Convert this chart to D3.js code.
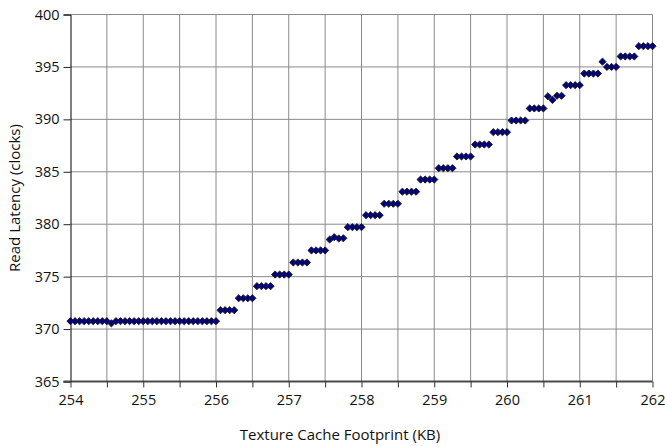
<!DOCTYPE html>
<html>
<head>
<meta charset="utf-8">
<script src="https://cdn.jsdelivr.net/npm/d3@7"></script>
<style>
  html, body { margin: 0; padding: 0; background: #fff; }
  svg { display: block; }
  text { font-family: "Open Sans", "Liberation Sans", sans-serif; fill: #111; }
</style>
</head>
<body>
<svg id="chart" width="665" height="447"></svg>
<script>
// Footprint of the texture working set, in KB (one sample per 64-byte line)
const footprintKB = [
  254, 254.0625, 254.125, 254.1875, 254.25, 254.3125, 254.375, 254.4375,
  254.5, 254.5625, 254.625, 254.6875, 254.75, 254.8125, 254.875, 254.9375,
  255, 255.0625, 255.125, 255.1875, 255.25, 255.3125, 255.375, 255.4375,
  255.5, 255.5625, 255.625, 255.6875, 255.75, 255.8125, 255.875, 255.9375,
  256, 256.0625, 256.125, 256.1875, 256.25, 256.3125, 256.375, 256.4375,
  256.5, 256.5625, 256.625, 256.6875, 256.75, 256.8125, 256.875, 256.9375,
  257, 257.0625, 257.125, 257.1875, 257.25, 257.3125, 257.375, 257.4375,
  257.5, 257.5625, 257.625, 257.6875, 257.75, 257.8125, 257.875, 257.9375,
  258, 258.0625, 258.125, 258.1875, 258.25, 258.3125, 258.375, 258.4375,
  258.5, 258.5625, 258.625, 258.6875, 258.75, 258.8125, 258.875, 258.9375,
  259, 259.0625, 259.125, 259.1875, 259.25, 259.3125, 259.375, 259.4375,
  259.5, 259.5625, 259.625, 259.6875, 259.75, 259.8125, 259.875, 259.9375,
  260, 260.0625, 260.125, 260.1875, 260.25, 260.3125, 260.375, 260.4375,
  260.5, 260.5625, 260.625, 260.6875, 260.75, 260.8125, 260.875, 260.9375,
  261, 261.0625, 261.125, 261.1875, 261.25, 261.3125, 261.375, 261.4375,
  261.5, 261.5625, 261.625, 261.6875, 261.75, 261.8125, 261.875, 261.9375,
  262
];

// Measured read latency (clocks) for each footprint above
const latencyClocks = [
  370.75, 370.75, 370.75, 370.75, 370.75, 370.75, 370.75, 370.75,
  370.75, 370.55, 370.75, 370.75, 370.75, 370.75, 370.75, 370.75,
  370.75, 370.75, 370.75, 370.75, 370.75, 370.75, 370.75, 370.75,
  370.75, 370.75, 370.75, 370.75, 370.75, 370.75, 370.75, 370.75,
  370.75, 371.8, 371.8, 371.8, 371.8, 372.94, 372.94, 372.94,
  372.94, 374.09, 374.09, 374.09, 374.09, 375.2, 375.2, 375.2,
  375.2, 376.35, 376.35, 376.35, 376.35, 377.5, 377.5, 377.5,
  377.5, 378.54, 378.76, 378.64, 378.66, 379.72, 379.72, 379.72,
  379.72, 380.86, 380.86, 380.86, 380.86, 381.95, 381.95, 381.95,
  381.95, 383.1, 383.1, 383.1, 383.1, 384.26, 384.26, 384.26,
  384.26, 385.34, 385.34, 385.34, 385.34, 386.46, 386.46, 386.46,
  386.46, 387.6, 387.6, 387.6, 387.6, 388.78, 388.78, 388.78,
  388.78, 389.89, 389.89, 389.89, 389.89, 391.04, 391.04, 391.04,
  391.04, 392.2, 391.85, 392.25, 392.25, 393.26, 393.26, 393.26,
  393.26, 394.37, 394.37, 394.37, 394.37, 395.5, 395.0, 395.0,
  395.0, 396.0, 396.0, 396.0, 396.0, 396.98, 396.98, 396.98,
  396.98
];

// Axis ticks
const xDomain = [254, 262];
const yDomain = [365, 400];
const xTickLabels = [254, 255, 256, 257, 258, 259, 260, 261, 262];
const xGridTicks = [254.5, 255, 255.5, 256, 256.5, 257, 257.5, 258, 258.5,
                    259, 259.5, 260, 260.5, 261, 261.5, 262];
const yTickLabels = [365, 370, 375, 380, 385, 390, 395, 400];

const xTitle = "Texture Cache Footprint (KB)";
const yTitle = "Read Latency (clocks)";

const svg = d3.select("#chart");

const plot = { left: 70.5, right: 652.5, top: 14.5, bottom: 381.5 };

const x = d3.scaleLinear().domain(xDomain).range([plot.left, plot.right]);
const y = d3.scaleLinear().domain(yDomain).range([plot.bottom, plot.top]);

const gridColor = "#8a8a8a";

// Horizontal gridlines
svg.append("g")
  .selectAll("line")
  .data(yTickLabels.filter(v => v > yDomain[0]))
  .join("line")
  .attr("x1", plot.left).attr("x2", plot.right)
  .attr("y1", d => y(d)).attr("y2", d => y(d))
  .attr("stroke", gridColor).attr("stroke-width", 1);

// Vertical gridlines (every half KB)
svg.append("g")
  .selectAll("line")
  .data(xGridTicks)
  .join("line")
  .attr("x1", d => x(d)).attr("x2", d => x(d))
  .attr("y1", plot.top).attr("y2", plot.bottom)
  .attr("stroke", gridColor).attr("stroke-width", 1);

// Y axis
const yAxis = d3.axisLeft(y)
  .tickValues(yTickLabels)
  .tickSize(7)
  .tickPadding(4)
  .tickFormat(d3.format("d"));

const gy = svg.append("g")
  .attr("transform", `translate(${plot.left},0)`)
  .call(yAxis);
gy.select(".domain").attr("stroke", "#000").attr("stroke-width", 1);
gy.selectAll(".tick line").attr("stroke", "#222");
gy.selectAll(".tick text")
  .attr("font-size", "14.5px")
  .attr("font-family", null)
  .attr("fill", "#111");

// X axis
const xAxis = d3.axisBottom(x)
  .tickValues([254, ...xGridTicks])
  .tickSize(6)
  .tickPadding(7)
  .tickFormat(d => Number.isInteger(d) ? d3.format("d")(d) : "");

const gx = svg.append("g")
  .attr("transform", `translate(0,${plot.bottom})`)
  .call(xAxis);
gx.select(".domain").attr("stroke", "#4a4a4a").attr("stroke-width", 2)
  .attr("d", `M${plot.left - 7},0H${plot.right}`);
gx.selectAll(".tick line").attr("stroke", "#333");
gx.selectAll(".tick text")
  .attr("font-size", "14.5px")
  .attr("font-family", null)
  .attr("fill", "#111");

// Data markers: navy diamonds
const r = 3.6;
const diamond = `M0,${-r}L${r},0L0,${r}L${-r},0Z`;
const points = footprintKB.map((v, i) => ({ kb: v, lat: latencyClocks[i] }));

svg.append("g")
  .selectAll("path")
  .data(points)
  .join("path")
  .attr("d", diamond)
  .attr("transform", d => `translate(${x(d.kb)},${y(d.lat)})`)
  .attr("fill", "#000080")
  .attr("stroke", "#1a1a1a")
  .attr("stroke-width", 0.9);

// Axis titles
svg.append("text")
  .attr("x", 340)
  .attr("y", 440)
  .attr("text-anchor", "middle")
  .attr("font-size", "15px")
  .text(xTitle);

svg.append("text")
  .attr("transform", `translate(20,${(plot.top + plot.bottom) / 2}) rotate(-90)`)
  .attr("text-anchor", "middle")
  .attr("font-size", "15px")
  .text(yTitle);
</script>
</body>
</html>
